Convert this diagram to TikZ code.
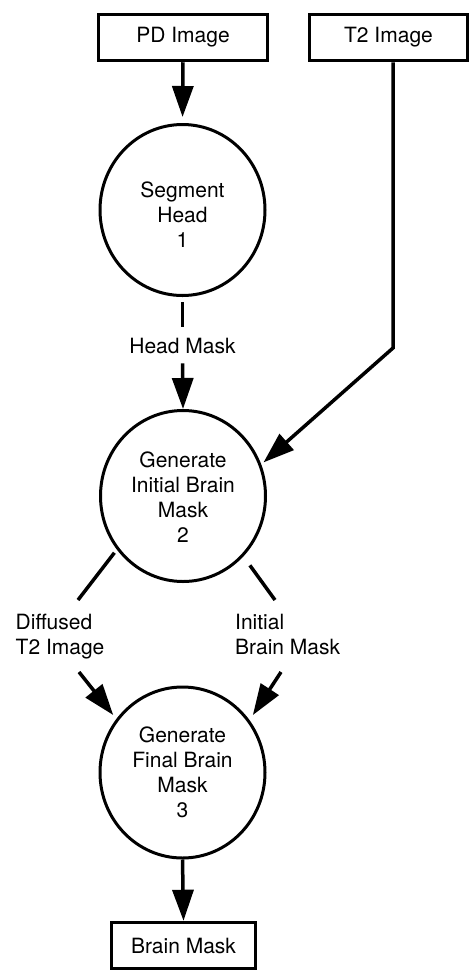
\documentclass[tikz,border=0pt]{standalone}
\usepackage{fontspec}
\setmainfont{TeX Gyre Heros}
\usetikzlibrary{arrows.meta,shapes.geometric}
\begin{document}
\begin{tikzpicture}[x=1pt,y=-1pt,
  every node/.style={font=\fontsize{21}{25}\selectfont},
  databox/.style={draw,line width=3.5pt,minimum height=46pt,inner sep=0pt},
  process/.style={draw,ellipse,line width=3pt,minimum width=165pt,minimum height=171pt,inner sep=0pt},
  proctext/.style={align=center,inner sep=0pt},
  flowlabel/.style={align=left,inner sep=0pt,anchor=north west},
  conn/.style={line width=3.5pt},
  flow/.style={conn,-{Triangle[length=31pt,width=21pt]}}
]
\useasboundingbox (0,0) rectangle (470,970);

% data stores
\node[databox,minimum width=169pt] (pd) at (183,37.5) {PD Image};
\node[databox,minimum width=158pt] (t2) at (388.5,37.5) {T2 Image};
\node[databox,minimum width=144pt] (bm) at (183.5,945.5) {Brain Mask};

% processes
\node[process] (c1) at (182.5,210) {};
\node[proctext] at ([yshift=-5pt]c1.center) {Segment\\Head\\1};
\node[process] (c2) at (183,496) {};
\node[proctext] at ([yshift=-1.5pt]c2.center) {Generate\\Initial Brain\\Mask\\2};
\node[process] (c3) at (182.5,772.5) {};
\node[proctext] at (c3.center) {Generate\\Final Brain\\Mask\\3};

% flow labels
\node[inner sep=0pt] (hm) at (182.5,346) {Head Mask};
\node[flowlabel] (dl) at (15.5,614) {Diffused\\T2 Image};
\node[flowlabel] (il) at (235,614) {Initial\\Brain Mask};

% bend points and label ends
\coordinate (bend) at (393,348);
\coordinate (d-in) at (78,600);
\coordinate (d-out) at (79,672);
\coordinate (i-in) at (275,600);
\coordinate (i-out) at (281,672);

% flows
\draw[flow,shorten >=6pt] (pd.south) -- (c1.north);
\draw[conn,shorten <=5pt,shorten >=11.4pt] (c1.south) -- (hm.north);
\draw[flow,shorten <=9.3pt] (hm.south) -- (c2.north);
\draw[flow,shorten >=3pt] (t2.south -| bend) -- (bend) -- (c2.22.5);
\draw[conn,shorten <=4pt] (c2.219) -- (d-in);
\draw[conn,shorten <=11pt] (c2.315) -- (i-in);
\draw[flow,shorten >=5pt] (d-out) -- (c3.141);
\draw[flow,shorten >=6pt] (i-out) -- (c3.38);
\draw[flow] (c3.south) -- (bm.north);
\end{tikzpicture}
\end{document}
